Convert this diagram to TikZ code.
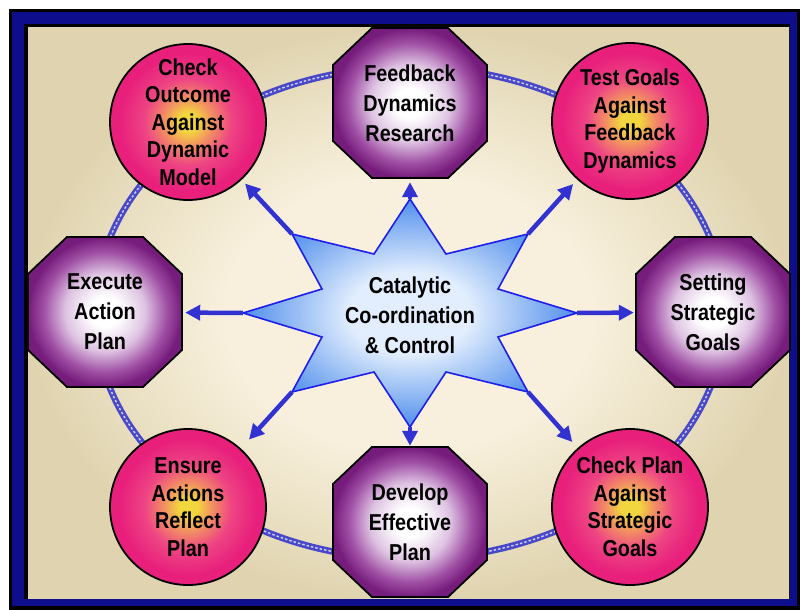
\documentclass[tikz,border=0pt]{standalone}
\usepackage{fontspec}
\setmainfont{Liberation Sans}[FakeStretch=0.86]
\usetikzlibrary{arrows.meta}
\definecolor{navyband}{RGB}{14,14,140}
\definecolor{bgin}{RGB}{248,240,221}
\definecolor{bgout}{RGB}{224,212,176}
\definecolor{octdark}{RGB}{118,28,124}
\definecolor{octmid}{RGB}{160,80,165}
\definecolor{octlight}{RGB}{222,195,226}
\definecolor{ballyellow}{RGB}{242,214,62}
\definecolor{ballorange}{RGB}{242,140,100}
\definecolor{ballpink}{RGB}{238,68,132}
\definecolor{pinkout}{RGB}{232,32,124}
\definecolor{starin}{RGB}{226,238,253}
\definecolor{starout}{RGB}{80,142,236}
\definecolor{starline}{RGB}{30,30,235}
\definecolor{arrowblue}{RGB}{50,50,210}
\definecolor{ringblue}{RGB}{72,72,200}
\pgfdeclareradialshading{bgshade}{\pgfpoint{0bp}{0bp}}{color(0bp)=(bgin); color(12bp)=(bgin); color(25bp)=(bgout); color(50bp)=(bgout)}
\pgfdeclareradialshading{ballshade}{\pgfpoint{0bp}{0bp}}{color(0bp)=(ballyellow); color(3bp)=(ballyellow); color(8bp)=(ballorange); color(14bp)=(ballpink); color(22bp)=(pinkout); color(50bp)=(pinkout)}
\pgfdeclareradialshading{octshade}{\pgfpoint{0bp}{0bp}}{color(0bp)=(white); color(5bp)=(white); color(13bp)=(octlight); color(20bp)=(octmid); color(25bp)=(octdark); color(50bp)=(octdark)}
\pgfdeclareradialshading{starshade}{\pgfpoint{0bp}{0bp}}{color(0bp)=(starin); color(9bp)=(starin); color(25bp)=(starout); color(50bp)=(starout)}
\tikzset{
  lbl/.style={font=\bfseries\fontsize{23}{27.5}\selectfont, align=center, text=black},
  circnode/.style={circle, draw=black, line width=1.8pt, shading=ballshade, minimum size=156pt, inner sep=0pt, lbl},
  octlabel/.style={rectangle, minimum width=154pt, minimum height=150pt, inner sep=0pt, font=\bfseries\fontsize{23}{30}\selectfont, align=center, text=black},
  octshape/.style={draw=black, line width=1.8pt, shading=octshade},
  starshape/.style={draw=starline, line width=1.6pt, line join=miter, shading=starshade},
  arr/.style={arrowblue, line width=4.5pt, -{Triangle[length=15pt,width=15pt]}},
  ringline/.style={ringblue, line width=6.5pt},
  ringcore/.style={white!75!ringblue, line width=1.4pt, dash pattern=on 2.5pt off 2pt},
}
\newcommand\octpath[1]{\path[octshape] (#1) ++(-38,-75) -- ++(76,0) -- ++(39,37) -- ++(0,76) -- ++(-39,37) -- ++(-76,0) -- ++(-39,-37) -- ++(0,-76) -- cycle;}
\begin{document}
\begin{tikzpicture}[x=1pt,y=-1pt]
\useasboundingbox (0,0) rectangle (800,610);
% frame
\fill[white] (0,0) rectangle (800,610);
\fill[black] (9,9) rectangle (800,610);
\fill[navyband] (12,12) rectangle (797,606);
\fill[black] (24,24) rectangle (790,599);
\path[shading=bgshade] (28,28) rectangle (789,598);
% ring
\coordinate (ringc) at (410,313);
\draw[ringline] (ringc) ellipse [x radius=315, y radius=246];
\draw[ringcore] (ringc) ellipse [x radius=315, y radius=246];
% octagons
\octpath{410,103}
\octpath{713,312}
\octpath{105,312}
\octpath{410,522}
\node[octlabel] (fb) at (410,103) {Feedback\\Dynamics\\Research};
\node[octlabel] (ss) at (713,312) {Setting\\Strategic\\Goals};
\node[octlabel] (ea) at (105,312) {Execute\\Action\\Plan};
\node[octlabel] (de) at (410,522) {Develop\\Effective\\Plan};
% circles
\node[circnode] (co) at (188,122) {Check\\Outcome\\Against\\Dynamic\\Model};
\node[circnode] (tg) at (630,121) {Test Goals\\Against\\Feedback\\Dynamics};
\node[circnode] (en) at (188,507) {Ensure\\Actions\\Reflect\\Plan};
\node[circnode] (cp) at (630,507) {Check Plan\\Against\\Strategic\\Goals};
% star
\coordinate (s0) at (577,313);
\coordinate (i1) at (498,289);
\coordinate (s45) at (528,234);
\coordinate (i2) at (446,254);
\coordinate (s90) at (410,199);
\coordinate (i3) at (374,254);
\coordinate (s135) at (292,234);
\coordinate (i4) at (322,289);
\coordinate (s180) at (243,313);
\coordinate (i5) at (322,337);
\coordinate (s225) at (292,392);
\coordinate (i6) at (374,372);
\coordinate (s270) at (410,427);
\coordinate (i7) at (446,372);
\coordinate (s315) at (528,392);
\coordinate (i8) at (498,337);
\path[starshape] (s0) -- (i1) -- (s45) -- (i2) -- (s90) -- (i3) -- (s135) -- (i4) -- (s180) -- (i5) -- (s225) -- (i6) -- (s270) -- (i7) -- (s315) -- (i8) -- cycle;
\node[octlabel, minimum width=0pt, minimum height=0pt] (cc) at (410,315) {Catalytic\\Co-ordination\\\& Control};
% arrows
\draw[arr, shorten >=5pt] (s135) -- (co);
\draw[arr, shorten >=4pt] (s90) -- (fb);
\draw[arr, shorten >=6pt] (s45) -- (tg);
\draw[arr, shorten >=2pt] (s0) -- (ss);
\draw[arr, shorten >=3pt] (s180) -- (ea);
\draw[arr, shorten >=12pt] (s225) -- (en);
\draw[arr, shorten >=1pt] (s270) -- (de);
\draw[arr, shorten >=8pt] (s315) -- (cp);
\end{tikzpicture}
\end{document}
